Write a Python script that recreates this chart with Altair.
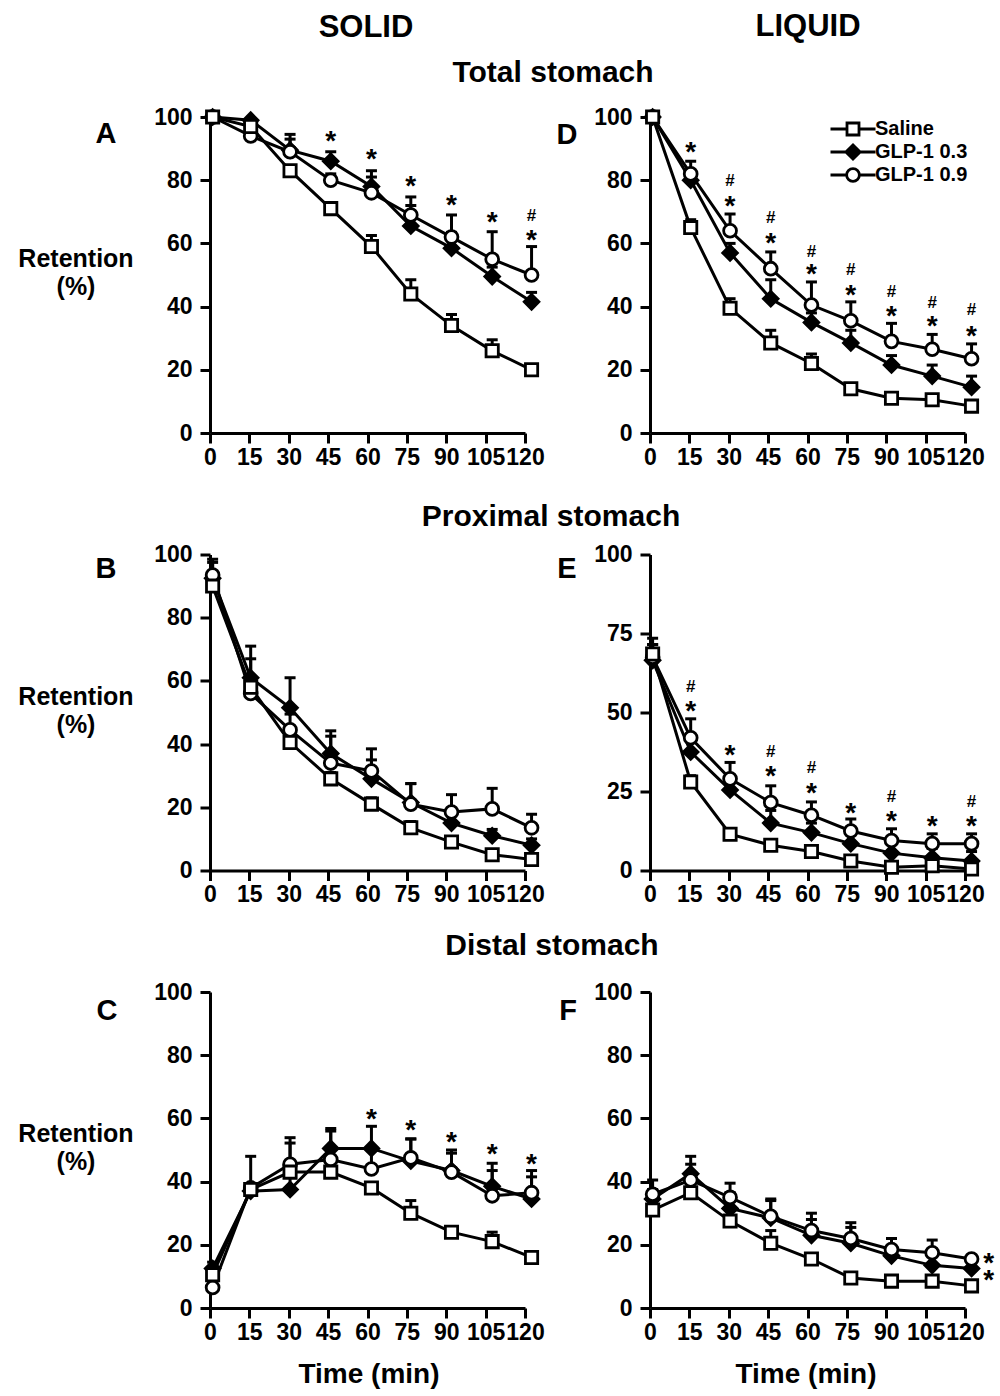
import altair as alt
import pandas as pd

# ---------------- data ----------------
TIMES = [0, 15, 30, 45, 60, 75, 90, 105, 120]
# the markers sit slightly to the right of the tick marks in the original
X_POS = [1, 15.5, 30.5, 46, 61.5, 76.5, 92, 107.5, 122.5]
GROUPS = ["Saline", "GLP-1 0.3", "GLP-1 0.9"]
Y_TICKS = [0, 20, 40, 60, 80, 100]
Y_TICKS_E = [0, 25, 50, 75, 100]

# A: solid, total stomach
A_SALINE = [100, 97, 83, 71, 59, 44, 34, 26, 20]
A_SALINE_ERR = [0, 0, 1, 1, 3.5, 4.5, 3.5, 3.5, 1]
A_GLP03 = [100, 99, 89.5, 86, 78, 65.5, 58.5, 49.5, 41.5]
A_GLP03_ERR = [0, 0, 5, 3, 5, 6.5, 5, 3, 3]
A_GLP09 = [100, 94, 89, 80, 76, 69, 62, 55, 50]
A_GLP09_ERR = [0, 1, 4, 2, 5, 5.7, 7, 8.7, 9]
A_STAR_X = [46, 61.5, 76.5, 92, 107.5, 122.5]
A_STAR_Y = [94.7, 89, 80.3, 74.4, 69, 63.2]
A_HASH_X = [122.5]
A_HASH_Y = [69]

# D: liquid, total stomach
D_SALINE = [100, 65, 39.5, 28.5, 22, 14, 11, 10.5, 8.5]
D_SALINE_ERR = [0, 2.5, 3, 4, 3, 1, 0.5, 0.5, 0.5]
D_GLP03 = [100, 80, 57, 42.5, 35, 28.5, 21.5, 18, 14.5]
D_GLP03_ERR = [0, 2, 3, 6, 3, 4, 3, 3.5, 3.5]
D_GLP09 = [100, 82, 64, 52, 40.5, 35.5, 29, 26.5, 23.5]
D_GLP09_ERR = [0, 4, 5.3, 5.3, 7.3, 6, 5.7, 4.7, 4.7]
D_STAR_X = [15.5, 30.5, 46, 61.5, 76.5, 92, 107.5, 122.5]
D_STAR_Y = [91, 74, 62.4, 52.4, 46, 39.2, 36, 32.8]
D_HASH_X = [30.5, 46, 61.5, 76.5, 92, 107.5, 122.5]
D_HASH_Y = [80, 68.3, 57.7, 51.9, 45, 41.5, 39.2]

# B: solid, proximal stomach
B_SALINE = [90, 58, 40.5, 29, 21, 13.5, 9, 5, 3.5]
B_SALINE_ERR = [2, 3, 2, 2, 2, 2, 1, 1, 1]
B_GLP03 = [92.5, 61, 51.5, 37, 29, 21.5, 15, 11, 8]
B_GLP03_ERR = [5, 10, 9.5, 7.2, 6, 6, 3, 2, 2]
B_GLP09 = [93.5, 56, 44.5, 34, 31.5, 21, 18.5, 19.5, 13.5]
B_GLP09_ERR = [5, 11, 5, 8.5, 7, 6.5, 5.5, 6.5, 4.3]

# E: liquid, proximal stomach
E_SALINE = [68.5, 28, 11.5, 8, 6, 3, 1, 1.5, 0.5]
E_SALINE_ERR = [3, 2, 0.5, 0.5, 0.5, 0.5, 0.5, 0.5, 0.5]
E_GLP03 = [66.5, 37.5, 25.5, 15, 12, 8.5, 5.5, 4, 3]
E_GLP03_ERR = [5, 4, 4, 4, 3, 4, 3, 3, 3]
E_GLP09 = [67.5, 42, 29, 21.5, 17.5, 12.5, 9.5, 8.5, 8.5]
E_GLP09_ERR = [6, 6, 5.2, 5.3, 4.2, 3.8, 3.7, 3.1, 3.1]
E_STAR_X = [15.5, 30.5, 46, 61.5, 76.5, 92, 107.5, 122.5]
E_STAR_Y = [52.6, 38.9, 32.1, 26.8, 20.5, 17.9, 16.3, 16.3]
E_HASH_X = [15.5, 46, 61.5, 92, 122.5]
E_HASH_Y = [58.4, 37.9, 32.6, 23.7, 22.1]

# C: solid, distal stomach
C_SALINE = [10.5, 37.5, 43, 43, 38, 30, 24, 21, 16]
C_SALINE_ERR = [1, 1, 1, 1, 1, 4, 0.5, 3, 0.5]
C_GLP03 = [12.5, 37, 37.5, 50.5, 50.5, 46.5, 43.5, 38.5, 34.5]
C_GLP03_ERR = [2, 1, 14.7, 6.3, 7, 7, 6.5, 7.3, 7]
C_GLP09 = [6.5, 38, 45.5, 47, 44, 47.5, 43, 35.5, 36.5]
C_GLP09_ERR = [2, 10, 8.4, 9, 6, 6, 6, 8, 7]
C_STAR_X = [61.5, 76.5, 92, 107.5, 122.5]
C_STAR_Y = [62.1, 58.4, 54.7, 51, 47.9]

# F: liquid, distal stomach
F_SALINE = [31, 36.5, 27.5, 20.5, 15.5, 9.5, 8.5, 8.5, 7]
F_SALINE_ERR = [1, 1, 1, 4, 1, 0.5, 0.5, 0.5, 0.5]
F_GLP03 = [34.5, 42.5, 31.5, 28.5, 23, 20.5, 16.5, 13.5, 12.5]
F_GLP03_ERR = [3, 3, 5, 6, 5, 5, 5.5, 4, 2]
F_GLP09 = [36, 40.5, 35, 29, 24.5, 22, 18.5, 17.5, 15.5]
F_GLP09_ERR = [4.5, 7.5, 4.5, 5, 5.5, 5, 3.5, 4, 1]
F_STAR_X = [129, 129]
F_STAR_Y = [16.3, 11]

# ---------------- styling ----------------
FONT = "Liberation Sans"
W, H = 315, 316
MARKERS = {  # group: (shape, fill, size)
    "Saline": ("square", "white", 150),
    "GLP-1 0.3": ("diamond", "black", 215),
    "GLP-1 0.9": ("circle", "white", 165),
}
DRAW_ORDER = ["GLP-1 0.3", "GLP-1 0.9", "Saline"]
LEGEND_PATHS = [
    "M-3,0H-0.8M0.8,0H3M-0.8,-0.8H0.8V0.8H-0.8Z",
    "M-3,0H-0.95M0.95,0H3M-0.95,0L0,-0.95L0.95,0L0,0.95Z",
    "M-3,0H-0.85M0.85,0H3M-0.85,0A0.85,0.85,0,1,1,0.85,0A0.85,0.85,0,1,1,-0.85,0Z",
]
LEGEND_FILLS = ["white", "black", "white"]
LEGEND_STROKES = ["black", "black", "black"]


def x_enc():
    return alt.X("x:Q", scale=alt.Scale(domain=[0, 120], nice=False, zero=False),
                 axis=alt.Axis(values=TIMES, title=None, labelFlush=False, labelOverlap=False,
                               labelPadding=3, labelBound=False))


def y_enc(field, yticks):
    return alt.Y(field, scale=alt.Scale(domain=[0, 100], nice=False),
                 axis=alt.Axis(values=yticks, title=None, labelPadding=8, labelOverlap=False,
                               labelFlush=False, labelBound=False))


def label(text, x, y, size, line_height=None):
    props = dict(font=FONT, fontSize=size, fontWeight="bold", color="black",
                 align="center", baseline="alphabetic")
    if "\n" in text:
        props.update(lineBreak="\n", lineHeight=line_height)
    return alt.Chart(pd.DataFrame({"label": [text]})).mark_text(**props).encode(
        text="label:N", x=alt.value(x), y=alt.value(y))


def annot(xs, ys, symbol, size, dy, yticks):
    df = pd.DataFrame({"x": xs, "value": ys, "s": [symbol] * len(xs)})
    return alt.Chart(df).mark_text(font=FONT, fontSize=size, fontWeight="bold", color="black",
                                   align="center", baseline="middle", dy=dy).encode(
        x=x_enc(), y=y_enc("value:Q", yticks), text="s:N")


def panel(sal, sal_e, g3, g3_e, g9, g9_e, yticks, extras):
    rows = []
    for g, m, e in ((GROUPS[0], sal, sal_e), (GROUPS[1], g3, g3_e), (GROUPS[2], g9, g9_e)):
        for xp, v, er in zip(X_POS, m, e):
            rows.append({"x": xp, "value": v, "err": er, "upper": v + er, "group": g})
    df = pd.DataFrame(rows)
    base = alt.Chart(df)
    lines = base.mark_line(color="black", strokeWidth=3).encode(
        x=x_enc(), y=y_enc("value:Q", yticks), detail="group:N")
    bars = base.transform_filter("datum.err > 0").mark_rule(color="black", strokeWidth=3).encode(
        x=x_enc(), y=y_enc("value:Q", yticks), y2="upper:Q")
    caps = base.transform_filter("datum.err > 0").mark_tick(
        color="black", orient="horizontal", thickness=3, size=11, opacity=1).encode(
        x=x_enc(), y=y_enc("upper:Q", yticks))
    layers = [lines, bars, caps]
    for g in DRAW_ORDER:
        shape, fill, size = MARKERS[g]
        layers.append(base.transform_filter(alt.datum.group == g).mark_point(
            shape=shape, filled=True, fill=fill, stroke="black", strokeWidth=2.8,
            size=size, opacity=1).encode(x=x_enc(), y=y_enc("value:Q", yticks)))
    layers += extras
    return alt.layer(*layers).properties(width=W, height=H)


STAR_SIZE, STAR_DY = 28, 8
HASH_SIZE, HASH_DY = 17, 1

legend = alt.Legend(orient="none", legendX=178, legendY=2, title=None, padding=0,
                    labelFont=FONT, labelFontSize=20, labelFontWeight="bold", labelColor="black",
                    symbolSize=225, symbolStrokeWidth=2.8, symbolStrokeColor="black",
                    symbolOffset=15, labelOffset=12, rowPadding=-2)
legend_layer = alt.Chart(pd.DataFrame({"group": GROUPS})).transform_filter("false").mark_point(
    strokeWidth=2.8, opacity=1).encode(
    shape=alt.Shape("group:N", scale=alt.Scale(domain=GROUPS, range=LEGEND_PATHS), legend=legend),
    fill=alt.Fill("group:N", scale=alt.Scale(domain=GROUPS, range=LEGEND_FILLS), legend=legend),
    stroke=alt.Stroke("group:N", scale=alt.Scale(domain=GROUPS, range=LEGEND_STROKES), legend=legend),
)

anchor = alt.Chart(pd.DataFrame({"a": [0]})).mark_rule(opacity=0, strokeWidth=0).encode(
    x=alt.value(-210), x2=alt.value(-210), y=alt.value(-117), y2=alt.value(-117))

chart_a = panel(A_SALINE, A_SALINE_ERR, A_GLP03, A_GLP03_ERR, A_GLP09, A_GLP09_ERR, Y_TICKS, [
    annot(A_STAR_X, A_STAR_Y, "*", STAR_SIZE, STAR_DY, Y_TICKS),
    annot(A_HASH_X, A_HASH_Y, "#", HASH_SIZE, HASH_DY, Y_TICKS),
    label("SOLID", 156, -80, 31),
    label("Total stomach", 343, -35, 30),
    label("A", -104, 26, 29),
    label("Retention\n(%)", -134, 150, 25, 28),
    anchor,
])
chart_d = panel(D_SALINE, D_SALINE_ERR, D_GLP03, D_GLP03_ERR, D_GLP09, D_GLP09_ERR, Y_TICKS, [
    annot(D_STAR_X, D_STAR_Y, "*", STAR_SIZE, STAR_DY, Y_TICKS),
    annot(D_HASH_X, D_HASH_Y, "#", HASH_SIZE, HASH_DY, Y_TICKS),
    label("LIQUID", 158, -81, 31),
    label("D", -83, 27, 29),
    legend_layer,
])
chart_b = panel(B_SALINE, B_SALINE_ERR, B_GLP03, B_GLP03_ERR, B_GLP09, B_GLP09_ERR, Y_TICKS, [
    label("Proximal stomach", 341, -29, 30),
    label("B", -104, 23, 29),
    label("Retention\n(%)", -134, 150, 25, 28),
])
chart_e = panel(E_SALINE, E_SALINE_ERR, E_GLP03, E_GLP03_ERR, E_GLP09, E_GLP09_ERR, Y_TICKS_E, [
    annot(E_STAR_X, E_STAR_Y, "*", STAR_SIZE, STAR_DY, Y_TICKS_E),
    annot(E_HASH_X, E_HASH_Y, "#", HASH_SIZE, HASH_DY, Y_TICKS_E),
    label("E", -83, 23, 29),
])
chart_c = panel(C_SALINE, C_SALINE_ERR, C_GLP03, C_GLP03_ERR, C_GLP09, C_GLP09_ERR, Y_TICKS, [
    annot(C_STAR_X, C_STAR_Y, "*", STAR_SIZE, STAR_DY, Y_TICKS),
    label("Distal stomach", 342, -37, 30),
    label("C", -103, 28, 29),
    label("Retention\n(%)", -134, 150, 25, 28),
    label("Time (min)", 159, 391, 28),
])
chart_f = panel(F_SALINE, F_SALINE_ERR, F_GLP03, F_GLP03_ERR, F_GLP09, F_GLP09_ERR, Y_TICKS, [
    annot(F_STAR_X, F_STAR_Y, "*", STAR_SIZE, STAR_DY, Y_TICKS),
    label("F", -82, 28, 29),
    label("Time (min)", 156, 391, 28),
])

chart = alt.concat(chart_a, chart_d, chart_b, chart_e, chart_c, chart_f, columns=2,
                   spacing={"row": 121.5, "column": 125}, bounds="flush",
                   padding=0, background="white").resolve_scale(
    shape="independent", fill="independent", stroke="independent"
).configure_axis(
    labelFont=FONT, labelFontSize=23, labelFontWeight="bold", labelColor="black",
    domainColor="black", domainWidth=3, tickColor="black", tickWidth=3, tickSize=10, grid=False,
    labelOverlap=False, labelFlush=False,
).configure_view(stroke=None)

chart.save("out.html", embed_options={"renderer": "svg", "actions": False})
